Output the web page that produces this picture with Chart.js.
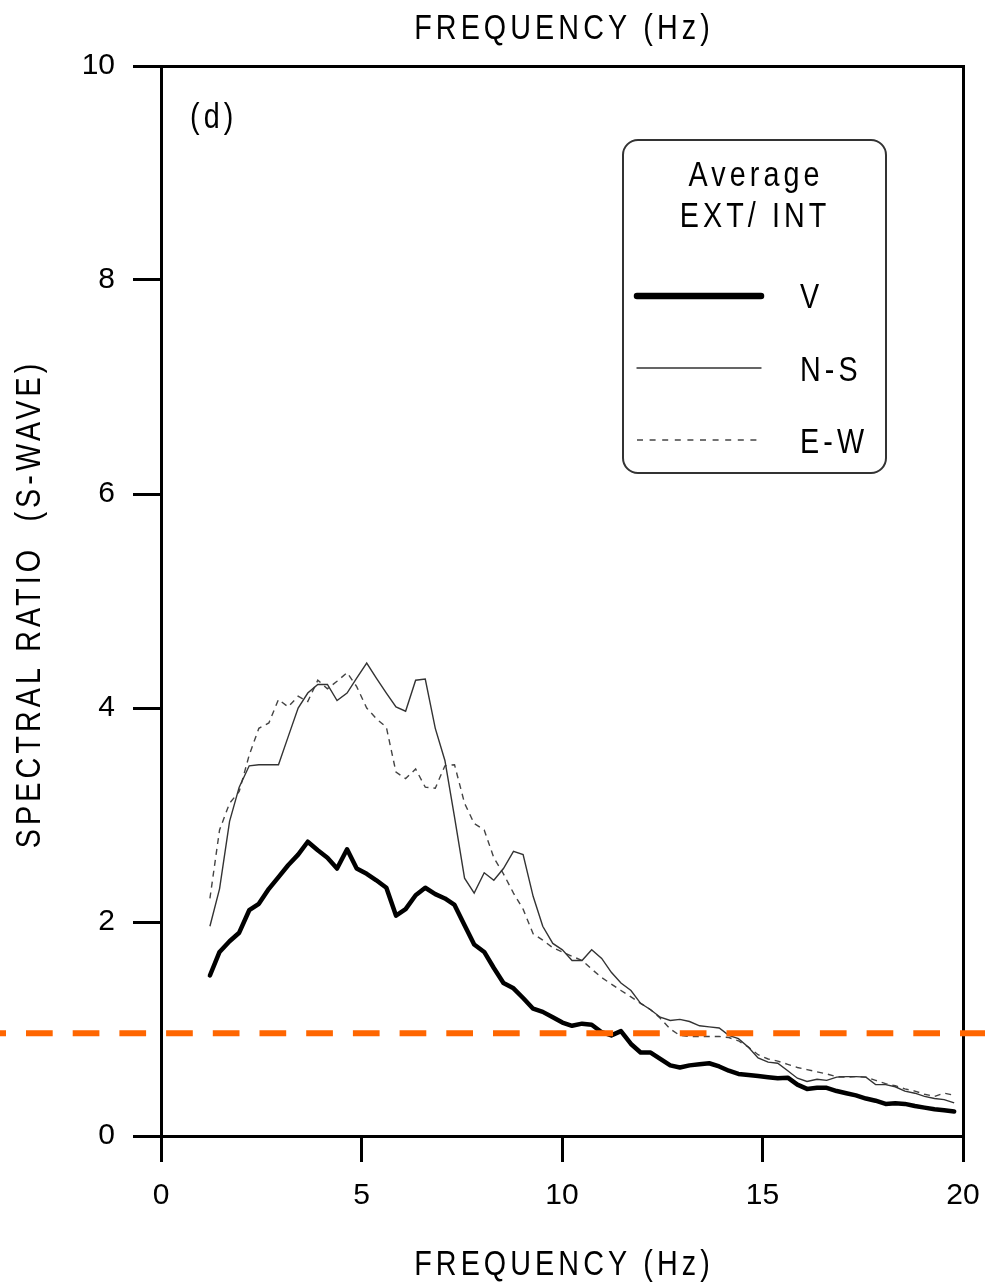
<!DOCTYPE html>
<html>
<head>
<meta charset="utf-8">
<script src="https://cdn.jsdelivr.net/npm/chart.js@4.4.1/dist/chart.umd.min.js"></script>
<style>
  html, body { margin: 0; padding: 0; background: #fff; }
  #wrap { width: 985px; height: 1288px; }
</style>
</head>
<body>
<div id="wrap"><canvas id="ratioChart" width="985" height="1288"></canvas></div>
<script>
// Fréquences (Hz) des spectres moyens
const frequencies = [
  1.22, 1.46, 1.71, 1.95, 2.20, 2.44, 2.69, 2.93, 3.17, 3.42,
  3.66, 3.91, 4.15, 4.39, 4.64, 4.88, 5.13, 5.37, 5.62, 5.86,
  6.10, 6.35, 6.59, 6.84, 7.08, 7.32, 7.57, 7.81, 8.06, 8.30,
  8.54, 8.79, 9.03, 9.28, 9.52, 9.77, 10.01, 10.25, 10.50, 10.74,
  10.99, 11.23, 11.47, 11.72, 11.96, 12.21, 12.45, 12.70, 12.94, 13.18,
  13.43, 13.67, 13.92, 14.16, 14.40, 14.65, 14.89, 15.14, 15.38, 15.63,
  15.87, 16.11, 16.36, 16.60, 16.85, 17.09, 17.33, 17.58, 17.82, 18.07,
  18.31, 18.55, 18.80, 19.04, 19.29, 19.53, 19.78
];

// Rapport spectral EXT/INT, composante verticale
const ratioV = [
  1.50, 1.72, 1.82, 1.90, 2.11, 2.17, 2.31, 2.42, 2.53, 2.63,
  2.75, 2.67, 2.60, 2.50, 2.68, 2.50, 2.45, 2.39, 2.32, 2.06,
  2.12, 2.25, 2.32, 2.26, 2.22, 2.16, 1.97, 1.79, 1.72, 1.57,
  1.43, 1.38, 1.29, 1.19, 1.16, 1.11, 1.06, 1.03, 1.05, 1.04,
  0.97, 0.94, 0.98, 0.86, 0.78, 0.78, 0.72, 0.66, 0.64, 0.66,
  0.67, 0.68, 0.65, 0.61, 0.58, 0.57, 0.56, 0.55, 0.54, 0.545,
  0.48, 0.44, 0.45, 0.45, 0.42, 0.40, 0.38, 0.35, 0.33, 0.30,
  0.305, 0.30, 0.28, 0.265, 0.25, 0.24, 0.23
];

// Composante N-S
const ratioNS = [
  1.96, 2.31, 2.94, 3.26, 3.46, 3.47, 3.47, 3.47, 3.73, 4.00,
  4.14, 4.22, 4.22, 4.07, 4.14, 4.28, 4.42, 4.28, 4.14, 4.01,
  3.97, 4.26, 4.27, 3.81, 3.51, 2.98, 2.41, 2.27, 2.46, 2.39,
  2.50, 2.66, 2.63, 2.24, 1.96, 1.80, 1.74, 1.64, 1.64, 1.74,
  1.66, 1.53, 1.43, 1.36, 1.24, 1.18, 1.11, 1.08, 1.09, 1.07,
  1.03, 1.02, 1.01, 0.94, 0.91, 0.83, 0.73, 0.69, 0.68, 0.61,
  0.54, 0.51, 0.53, 0.52, 0.55, 0.555, 0.555, 0.55, 0.48, 0.48,
  0.46, 0.42, 0.40, 0.37, 0.35, 0.34, 0.31
];

// Composante E-W
const ratioEW = [
  2.22, 2.86, 3.11, 3.22, 3.56, 3.81, 3.86, 4.08, 4.01, 4.11,
  4.06, 4.26, 4.18, 4.25, 4.33, 4.20, 4.00, 3.90, 3.82, 3.40,
  3.34, 3.43, 3.26, 3.25, 3.46, 3.47, 3.11, 2.92, 2.86, 2.60,
  2.45, 2.27, 2.12, 1.89, 1.83, 1.76, 1.72, 1.68, 1.64, 1.56,
  1.48, 1.42, 1.36, 1.30, 1.24, 1.18, 1.10, 1.00, 0.94, 0.93,
  0.93, 0.93, 0.93, 0.92, 0.89, 0.83, 0.76, 0.72, 0.70, 0.67,
  0.64, 0.62, 0.60, 0.58, 0.555, 0.55, 0.555, 0.55, 0.52, 0.49,
  0.47, 0.44, 0.42, 0.39, 0.37, 0.40, 0.38
];

const seriesNames = ['V', 'N-S', 'E-W'];
const xTickValues = [0, 5, 10, 15, 20];
const yTickValues = [0, 2, 4, 6, 8, 10];
const referenceLevel = 0.96;
const xAxisTitle = 'FREQUENCY (Hz)';
const yAxisTitle = 'SPECTRAL RATIO  (S-WAVE)';
const legendTitle = ['Average', 'EXT/ INT'];
const panelLabel = '(d)';

const FONT = '"Liberation Sans", Arial, sans-serif';

// texte étroit un peu espacé, comme sur la figure d'origine
function drawNarrowText(ctx, text, x, y, align, size, rotate) {
  const spacing = 5;
  ctx.save();
  ctx.translate(x, y);
  if (rotate) ctx.rotate(-Math.PI / 2);
  ctx.scale(0.82, 1);
  ctx.font = size + 'px ' + FONT;
  ctx.fillStyle = '#000';
  ctx.textBaseline = 'alphabetic';
  ctx.textAlign = 'left';
  let hasSpacing = false;
  if ('letterSpacing' in ctx) { ctx.letterSpacing = spacing + 'px'; hasSpacing = true; }
  let w = ctx.measureText(text).width;
  if (hasSpacing) w -= spacing;
  let x0 = 0;
  if (align === 'center') x0 = -w / 2;
  else if (align === 'right') x0 = -w;
  ctx.fillText(text, x0, 0);
  ctx.restore();
}

const textPlugin = {
  id: 'figureText',
  afterDraw(chart) {
    const ctx = chart.ctx;
    const area = chart.chartArea;
    const midX = (area.left + area.right) / 2;
    drawNarrowText(ctx, xAxisTitle, midX, 39, 'center', 35);
    drawNarrowText(ctx, xAxisTitle, midX, 1275, 'center', 35);
    drawNarrowText(ctx, yAxisTitle, 40, 606, 'center', 35, true);
    drawNarrowText(ctx, panelLabel, 190, 128, 'left', 35);

    // légende encadrée
    ctx.save();
    ctx.beginPath();
    ctx.roundRect(623, 140, 263, 333, 15);
    ctx.fillStyle = '#fff';
    ctx.fill();
    ctx.lineWidth = 2;
    ctx.strokeStyle = '#333';
    ctx.stroke();
    ctx.restore();
    drawNarrowText(ctx, legendTitle[0], 754, 186, 'center', 35);
    drawNarrowText(ctx, legendTitle[1], 753, 227, 'center', 35);

    const rows = [
      { lineY: 296, textY: 308, width: 6.5, dash: [] },
      { lineY: 368, textY: 381, width: 1.4, dash: [] },
      { lineY: 440, textY: 453, width: 1.4, dash: [6, 6.6] }
    ];
    chart.data.datasets.forEach((ds, i) => {
      const r = rows[i];
      ctx.save();
      ctx.beginPath();
      ctx.setLineDash(r.dash);
      ctx.lineCap = r.dash.length ? 'butt' : 'round';
      ctx.lineWidth = r.width;
      ctx.strokeStyle = ds.borderColor;
      ctx.moveTo(637, r.lineY);
      ctx.lineTo(761, r.lineY);
      ctx.stroke();
      ctx.restore();
      drawNarrowText(ctx, seriesNames[i], 800, r.textY, 'left', 35);
    });

    // niveau de référence orange, sur toute la largeur
    const yRef = chart.scales.y.getPixelForValue(referenceLevel);
    ctx.save();
    ctx.beginPath();
    ctx.setLineDash([26.7, 20]);
    ctx.lineDashOffset = 20.7;
    ctx.lineWidth = 6;
    ctx.strokeStyle = '#FF6600';
    ctx.moveTo(0, yRef);
    ctx.lineTo(chart.width, yRef);
    ctx.stroke();
    ctx.restore();
  }
};

const whiteBackground = {
  id: 'whiteBackground',
  beforeDraw(chart) {
    const ctx = chart.ctx;
    ctx.save();
    ctx.fillStyle = '#fff';
    ctx.fillRect(0, 0, chart.width, chart.height);
    ctx.restore();
  }
};

function toPoints(values) {
  return frequencies.map((f, i) => ({ x: f, y: values[i] }));
}

// tailles d'axes fixes, sans marge ajoutée pour les libellés
function fixSize(prop, size) {
  return s => {
    s[prop] = size;
    s.paddingLeft = 0;
    s.paddingRight = 0;
    s.paddingTop = 0;
    s.paddingBottom = 0;
  };
}

const tickAxis = (tickLength) => ({
  drawOnChartArea: false,
  drawTicks: true,
  tickLength: tickLength,
  color: '#000',
  tickColor: '#000',
  lineWidth: 3,
  tickWidth: 3
});
const frame = { display: true, color: '#000', width: 3 };

const ctx = document.getElementById('ratioChart').getContext('2d');
window.ratioChart = new Chart(ctx, {
  type: 'line',
  data: {
    datasets: [
      {
        label: seriesNames[0],
        data: toPoints(ratioV),
        borderColor: '#000',
        borderWidth: 4.5,
        borderJoinStyle: 'round',
        borderCapStyle: 'round',
        pointRadius: 0,
        tension: 0,
        fill: false
      },
      {
        label: seriesNames[1],
        data: toPoints(ratioNS),
        borderColor: '#333',
        borderWidth: 1.4,
        pointRadius: 0,
        tension: 0,
        fill: false
      },
      {
        label: seriesNames[2],
        data: toPoints(ratioEW),
        borderColor: '#444',
        borderWidth: 1.4,
        borderDash: [6, 5],
        pointRadius: 0,
        tension: 0,
        fill: false
      }
    ]
  },
  options: {
    responsive: false,
    animation: false,
    devicePixelRatio: 1,
    events: [],
    layout: { padding: 0 },
    plugins: {
      legend: { display: false },
      tooltip: { enabled: false }
    },
    scales: {
      x: {
        type: 'linear',
        position: 'bottom',
        min: 0,
        max: 20,
        afterBuildTicks: s => { s.ticks = xTickValues.map(v => ({ value: v })); },
        afterFit: fixSize('height', 152),
        grid: tickAxis(26),
        border: frame,
        ticks: { color: '#000', font: { family: FONT, size: 30 }, padding: 16, maxRotation: 0 }
      },
      x2: {
        type: 'linear',
        position: 'top',
        min: 0,
        max: 20,
        afterFit: fixSize('height', 66),
        grid: { display: false },
        border: frame,
        ticks: { display: false }
      },
      y: {
        type: 'linear',
        position: 'left',
        min: 0,
        max: 10,
        afterBuildTicks: s => { s.ticks = yTickValues.map(v => ({ value: v })); },
        afterFit: fixSize('width', 161),
        grid: tickAxis(28),
        border: frame,
        ticks: { color: '#000', font: { family: FONT, size: 30 }, padding: 18 }
      },
      y2: {
        type: 'linear',
        position: 'right',
        min: 0,
        max: 10,
        afterFit: fixSize('width', 22),
        grid: { display: false },
        border: frame,
        ticks: { display: false }
      }
    }
  },
  plugins: [whiteBackground, textPlugin]
});
</script>
</body>
</html>
